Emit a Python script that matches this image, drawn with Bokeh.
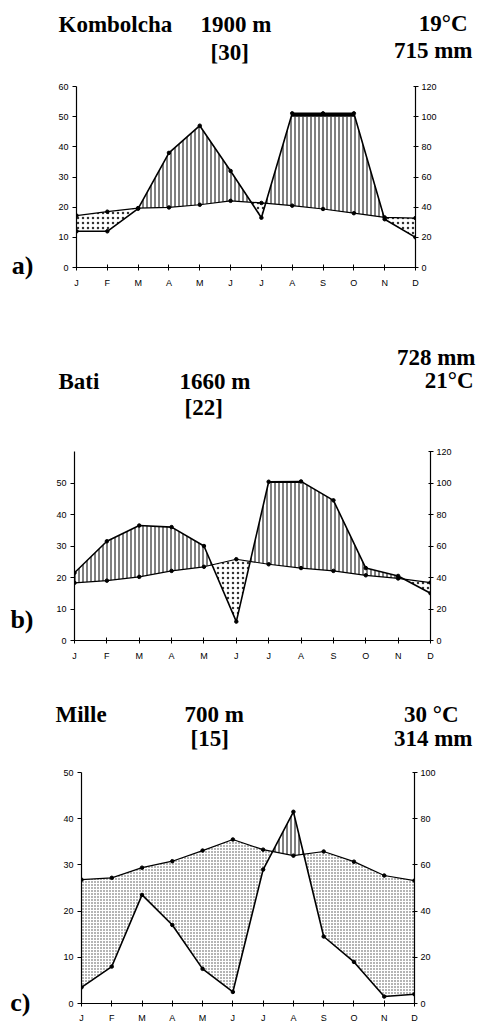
import numpy as np
from bokeh.plotting import figure
from bokeh.models import Range1d, LinearAxis, FixedTicker
from bokeh.layouts import column, row
from bokeh.core.properties import value
from bokeh.embed import file_html
from bokeh.resources import INLINE

months = ["J", "F", "M", "A", "M", "J", "J", "A", "S", "O", "N", "D"]

# a) Kombolcha: mean monthly temperature (°C) and precipitation (mm)
kombolcha_temp = [17.2, 18.5, 19.7, 19.9, 20.8, 22.1, 21.4, 20.5, 19.4, 18.0, 16.6, 16.4]
kombolcha_prec = [24, 24, 39, 76, 94, 64, 33, 122, 122, 122, 32, 20]

# b) Bati
bati_temp = [18.3, 19.0, 20.2, 22.1, 23.4, 25.8, 24.2, 23.0, 22.1, 20.7, 19.7, 18.4]
bati_prec = [43, 63, 73, 72, 60, 12, 108, 110, 89, 46, 41, 30]

# c) Mille
mille_temp = [26.8, 27.2, 29.4, 30.8, 33.1, 35.5, 33.3, 32.0, 32.9, 30.7, 27.7, 26.6]
mille_prec = [7, 16, 47, 34, 15, 5, 58, 83, 29, 18, 3, 4]

SERIF = "Liberation Serif"
SANS = "Liberation Sans"


def disp(prec):
    """precipitation (mm) -> left-axis units, compressed 1:10 above 100 mm"""
    p = np.asarray(prec, float)
    return np.where(p <= 100, p / 2.0, 50.0 + (p - 100.0) / 20.0)


def text_fig(w, h, items):
    """a plain figure used only to hold bold serif texts (pixel coordinates, y down)"""
    f = figure(width=w, height=h, x_range=Range1d(0, w), y_range=Range1d(h, 0),
               output_backend="svg", toolbar_location=None,
               x_axis_type=None, y_axis_type=None, min_border=0)
    f.outline_line_color = None
    f.grid.visible = False
    for align in ("left", "right"):
        sel = [it for it in items if it[3] == align]
        if not sel:
            continue
        f.text(x=[s[1] for s in sel], y=[s[2] for s in sel], text=[s[0] for s in sel],
               text_font=value(SERIF), text_font_style="bold", text_font_size="23px",
               text_align=align, text_baseline="middle", text_color="black")
    return f


def chart(temp, prec, cfg):
    x = np.arange(12, dtype=float)
    T = np.asarray(temp, float)
    P = disp(prec)

    # exact crossing points for the fills
    xs = set(x.tolist())
    for i in range(11):
        for d0, d1 in ((T[i] - P[i], T[i + 1] - P[i + 1]), (P[i] - 50, P[i + 1] - 50)):
            if d0 * d1 < 0:
                xs.add(x[i] + d0 / (d0 - d1))
    xs = np.array(sorted(xs))
    Ti = np.interp(xs, x, T)
    Pi = np.interp(xs, x, P)

    p = figure(width=478, height=cfg["H"], x_range=Range1d(0, 11),
               y_range=Range1d(0, cfg["ymax"]), output_backend="svg",
               toolbar_location=None,
               min_border_left=cfg["bl"], min_border_right=cfg["br"],
               min_border_top=cfg["bt"], min_border_bottom=cfg["bb"])
    p.outline_line_color = None
    p.xgrid.visible = False
    p.ygrid.visible = False
    p.extra_y_ranges = {"mm": Range1d(0, cfg["rmax"])}

    # humid period: vertical hatching
    p.varea(x=xs, y1=Ti, y2=np.maximum(np.minimum(Pi, 50), Ti), fill_color=None,
            hatch_pattern="vertical_line", hatch_color="black",
            hatch_scale=4, hatch_weight=1)
    # above 100 mm: black
    p.varea(x=xs, y1=np.full_like(xs, 50.0), y2=np.maximum(Pi, 50), fill_color="black")
    # arid period: stipple
    p.varea(x=xs, y1=Pi, y2=np.maximum(Ti, Pi), fill_color=None,
            hatch_pattern="dot", hatch_color=cfg["dotc"],
            hatch_scale=cfg["dot"], hatch_weight=cfg["dotw"])

    p.line(x, T, line_color="black", line_width=1.2)
    p.line(x, P, line_color="black", line_width=1.6)
    p.scatter(x, T, size=3.5, color="black")
    p.scatter(x, P, size=3.5, color="black")

    xa = p.xaxis[0]
    xa.ticker = FixedTicker(ticks=list(range(12)))
    xa.major_label_overrides = {i: m for i, m in enumerate(months)}
    xa.major_tick_in = 3
    xa.major_tick_out = 3
    xa.minor_tick_line_color = None
    xa.major_label_standoff = cfg["xs"]

    ya = p.yaxis[0]
    ya.ticker = FixedTicker(ticks=cfg["lt"])
    ya.major_tick_in = 0
    ya.major_tick_out = 4
    ya.minor_tick_line_color = None
    ya.major_label_standoff = 4

    ra = LinearAxis(y_range_name="mm", ticker=FixedTicker(ticks=cfg["rt"]))
    ra.major_tick_in = 2
    ra.major_tick_out = 3
    ra.minor_tick_line_color = None
    ra.major_label_standoff = 3
    p.add_layout(ra, "right")

    for ax in (xa, ya, ra):
        ax.axis_line_color = "black"
        ax.axis_line_width = 1.2
        ax.major_tick_line_color = "black"
        ax.major_label_text_font = SANS
        ax.major_label_text_font_size = "9px"
        ax.major_label_text_color = "black"

    # panel letter: label of an otherwise invisible outer axis, pushed down
    # towards the bottom of the frame with leading empty lines
    la = LinearAxis(ticker=FixedTicker(ticks=[]),
                    axis_label="\n" * cfg["nl"] + cfg["letter"],
                    axis_label_orientation="horizontal",
                    axis_label_standoff=cfg["ls"], major_label_standoff=0,
                    major_tick_in=0, major_tick_out=0)
    la.axis_line_color = None
    la.major_tick_line_color = None
    la.minor_tick_line_color = None
    la.axis_label_text_font = SERIF
    la.axis_label_text_font_style = "bold"
    la.axis_label_text_font_size = "26px"
    la.axis_label_text_line_height = cfg["lh"]
    la.axis_label_text_color = "black"
    p.add_layout(la, "left")
    return p


def panel(temp, prec, cfg):
    head = text_fig(478, cfg["hh"], cfg["titles"])
    body = chart(temp, prec, cfg)
    return column(head, row(body, spacing=0), spacing=0)


cfg_a = dict(hh=80, H=220, bl=76, br=63, bt=6, bb=33, ymax=60, rmax=120,
             lt=[0, 10, 20, 30, 40, 50, 60], rt=[0, 20, 40, 60, 80, 100, 120],
             xs=7, dot=5, dotw=0.6, dotc="#333333",
             titles=[("Kombolcha", 58, 24, "left"), ("1900 m", 200, 24, "left"),
                     ("[30]", 210, 52, "left"), ("19°C", 467, 23, "right"),
                     ("715 mm", 472, 50, "right")],
             letter="a)", nl=6, lh=1.02, ls=22)
cfg_b = dict(hh=145, H=227, bl=74, br=48, bt=6, bb=32, ymax=60, rmax=120,
             lt=[0, 10, 20, 30, 40, 50], rt=[0, 20, 40, 60, 80, 100, 120],
             xs=7, dot=5, dotw=0.6, dotc="#333333",
             titles=[("Bati", 58, 81, "left"), ("1660 m", 179, 81, "left"),
                     ("[22]", 184, 107, "left"), ("728 mm", 475, 57, "right"),
                     ("21°C", 473, 80, "right")],
             letter="b)", nl=5, lh=1.02, ls=20)
cfg_c = dict(hh=94, H=260, bl=81, br=64, bt=6, bb=23, ymax=50, rmax=100,
             lt=[0, 10, 20, 30, 40, 50], rt=[0, 20, 40, 60, 80, 100],
             xs=6, dot=3, dotw=0.6, dotc="#444444",
             titles=[("Mille", 55, 42, "left"), ("700 m", 184, 42, "left"),
                     ("[15]", 190, 66, "left"), ("30 °C", 458, 42, "right"),
                     ("314 mm", 472, 66, "right")],
             letter="c)", nl=8, lh=0.985, ls=30)

pa = panel(kombolcha_temp, kombolcha_prec, cfg_a)
pb = panel(bati_temp, bati_prec, cfg_b)
pc = panel(mille_temp, mille_prec, cfg_c)

layout = column(pa, pb, pc, spacing=0)
open("out.html", "w").write(file_html(layout, INLINE))
